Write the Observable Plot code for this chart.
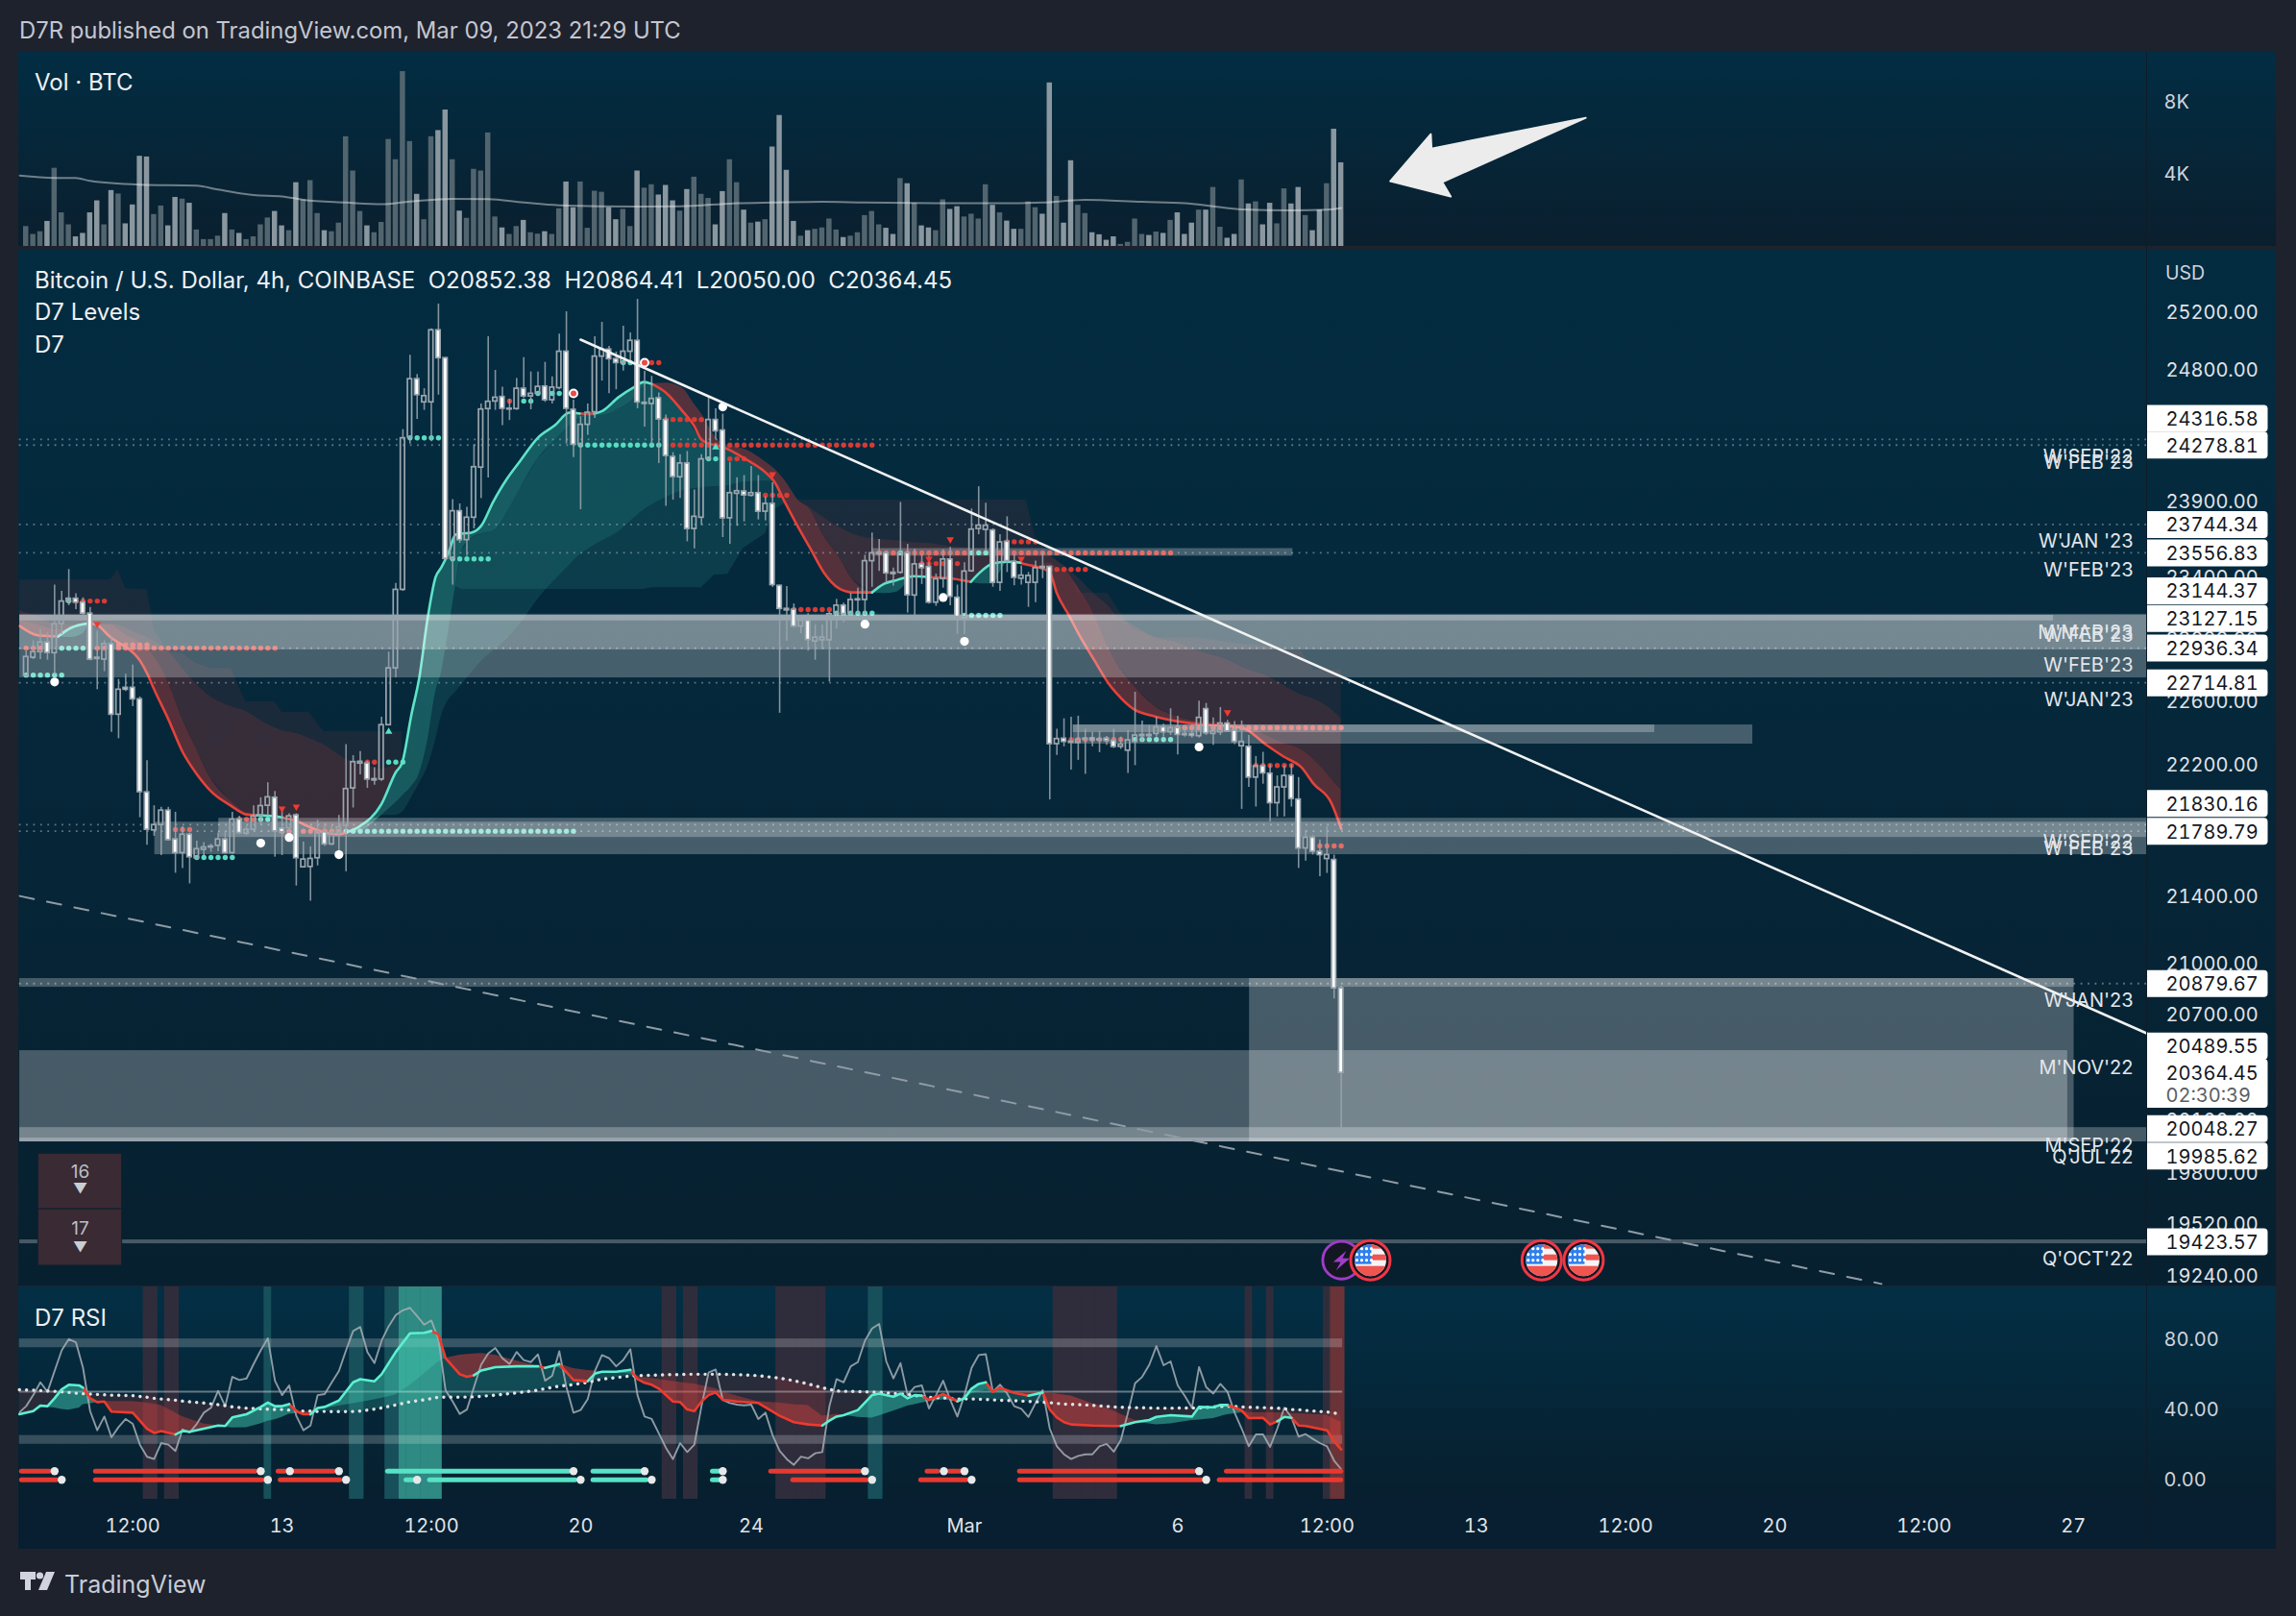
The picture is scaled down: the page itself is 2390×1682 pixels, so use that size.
<!DOCTYPE html>
<html><head><meta charset="utf-8">
<script src="https://cdn.jsdelivr.net/npm/d3@7"></script>
<script src="https://cdn.jsdelivr.net/npm/@observablehq/plot@0.6"></script>
<style>
html,body{margin:0;padding:0;background:#1e222d;width:2390px;height:1682px;overflow:hidden}
#stage{position:absolute;left:0;top:0;width:2390px;height:1682px;font-family:Inter,"Liberation Sans",sans-serif}
.pane{position:absolute;left:19px;width:2350px}
.t{position:absolute;white-space:pre;color:#eef0f3;font-size:24px;line-height:26px}
</style></head><body><div id="stage"></div>
<script>
// ---------- candles, one entry per 4h bar ----------
const opens=[22760,22875,22911,22973,22904,23091,23236,23256,23231,23159,22875,22863,22962,22513,22683,22683,22610,22028,21795,21828,21916,21740,21657,21769,21626,21677,21691,21701,21740,21657,21861,21775,21799,21885,21946,21995,21806,21808,21887,21571,21573,21626,21783,21710,21779,21822,22053,22207,22207,22102,22108,22447,22807,23314,
24330,24731,24571,24571,25072,24877,23517,23833,23641,23790,24126,24525,24577,24608,24522,24525,24665,24612,24630,24680,24586,24669,24922,24520,24281,24417,24503,24888,24937,24870,24843,24922,24998,24560,24560,24599,24450,24198,24061,24154,23715,23790,24183,24450,24378,23786,23950,23965,23937,23954,23830,23882,23340,23190,23184,23076,23113,22979,22987,22987,23157,23211,23157,23246,23248,23502,23549,23554,23426,23426,23554,23277,23481,23464,23231,23385,23513,23262,23138,23436,23715,23709,23705,23360,23630,23498,23387,23360,23360,23464,23464,22328,22362,22344,22336,22356,22364,22358,22362,22348,22311,22287,22342,22378,22386,22392,22433,22402,22429,22392,22392,22378,22548,22392,22402,22457,22412,22315,22311,22120,22190,22144,21962,22059,22130,21984,21685,21750,21665,21621,21615,20852];
const highs=[22917,22983,23060,23035,23345,23304,23447,23289,23262,23200,23045,22983,23014,22736,22770,22828,22625,22225,21946,21936,21936,21906,21818,21779,21730,21720,21711,21779,21789,21906,21881,21822,21946,21995,22087,22034,21936,21897,21897,21724,21695,21857,21838,21828,21887,22325,22256,22282,22221,22181,22497,22911,23356,24384,
24897,24763,24665,25083,25257,24881,23911,23882,23860,24281,24560,25027,24792,24676,24592,24736,24881,24781,24781,24848,24747,25045,25202,24586,24472,24560,25027,25128,24960,24920,25101,25054,25290,24785,24751,24636,24483,24227,24214,24235,23975,24214,24603,24527,24490,24162,24057,24072,24133,24072,23929,24024,23345,23335,23222,23128,23159,23086,23086,23169,23252,23227,23293,23325,23541,23688,23645,23566,23456,23892,23613,23581,23545,23534,23417,23577,23592,23345,23492,23848,23997,23886,23716,23677,23796,23545,23471,23428,23502,23562,23471,22422,22487,22497,22503,22422,22402,22406,22376,22422,22372,22412,22655,22473,22443,22497,22453,22550,22503,22443,22449,22598,22584,22493,22558,22477,22469,22473,22382,22251,22277,22200,22130,22194,22200,22120,21796,21766,21736,21817,21645,20864];
const lows=[22752,22863,22863,22859,22766,23024,23211,23186,23138,22855,22671,22786,22402,22362,22659,22564,21873,21705,21759,21642,21730,21535,21564,21471,21618,21642,21661,21665,21651,21651,21769,21763,21789,21828,21887,21632,21642,21730,21458,21568,21367,21579,21697,21701,21665,21544,21932,22136,22053,22073,22096,22443,22746,23304,
24286,24454,24516,24301,24621,23513,23345,23620,23534,23715,23918,24056,24516,24411,24446,24516,24599,24520,24621,24571,24560,24658,24286,24194,23843,24345,24461,24718,24630,24658,24787,24830,24527,24402,24275,24154,23865,23907,23918,23630,23583,23737,24176,24314,23658,23613,23733,23762,23928,23775,23769,23331,22522,22980,23066,23029,22917,22859,22925,22719,23060,23101,23124,23153,23149,23331,23434,23356,23339,23417,23163,23113,23349,23221,23207,23325,23211,23024,23024,23428,23677,23566,23331,23304,23428,23341,23345,23200,23231,23387,21982,22257,22311,22166,22227,22140,22311,22275,22321,22301,22295,22146,22194,22342,22362,22372,22372,22382,22261,22372,22366,22366,22382,22321,22382,22402,22325,21924,22059,21938,22079,21847,21877,21877,21938,21564,21608,21645,21514,21534,20790,20050];
const closes=[22880,22911,22973,22906,23091,23238,23256,23231,23159,22863,22867,22962,22513,22671,22671,22610,22030,21799,21828,21916,21736,21657,21769,21632,21681,21691,21697,21740,21657,21861,21779,21799,21881,21944,21998,21789,21783,21881,21626,21618,21622,21785,21710,21779,21814,22049,22216,22218,22108,22110,22447,22807,23314,24325,
24731,24621,24614,25072,24877,23517,23833,23641,23790,24129,24522,24575,24603,24527,24527,24665,24612,24630,24678,24586,24673,24922,24527,24281,24417,24500,24888,24937,24870,24843,24922,24998,24571,24568,24595,24454,24205,24063,24154,23715,23796,24182,24450,24373,23786,23954,23967,23939,23954,23830,23882,23345,23190,23180,23076,23113,22989,23004,23004,23155,23211,23157,23248,23252,23502,23554,23556,23422,23417,23554,23279,23481,23456,23231,23383,23513,23269,23138,23434,23711,23737,23737,23360,23626,23502,23393,23407,23405,23456,23456,22328,22360,22342,22336,22356,22362,22352,22352,22348,22311,22325,22352,22382,22386,22378,22433,22402,22429,22386,22384,22380,22493,22396,22408,22457,22408,22342,22342,22120,22190,22146,21962,22059,22130,21988,21685,21750,21665,21645,21645,20852,20364];
// ---------- volume ----------
const volumes=[1096,662,813,1380,4309,1852,1191,529,718,1852,2514,1191,3081,2892,1247,2287,4971,4933,1758,2230,1134,2703,2608,2381,907,378,378,567,1814,907,718,378,529,1191,1569,1928,1134,869,3515,2570,3629,1814,869,813,1285,6048,4158,1928,1134,756,1323,5897,4782,9639,5783,2873,1474,6048,6388,7522,4782,1947,1550,4252,4158,6256,1625,1021,662,1096,1436,756,680,813,662,2079,3553,2136,3553,1002,3043,2986,2136,1474,2041,1096,4158,3213,3402,2835,3364,2514,1947,3137,3818,2873,2646,1191,3024,4782,3515,2003,1285,1342,1474,5481,7220,4196,1380,567,869,945,1021,1512,907,491,567,756,1701,1928,1191,1002,662,3742,3459,2381,1134,1021,869,2570,2041,2192,1625,1777,1512,3402,2268,1852,1399,945,945,2457,2136,1777,9015,2759,1285,4725,2268,1814,756,643,340,529,113,227,1512,662,605,794,718,1436,1852,662,1285,2003,2003,3251,1058,454,662,3667,2344,2457,1191,2381,1247,3175,2344,3251,1701,869,2003,3459,6464,4612];
const volMaIdx=[-0.9,4,7,9,16,24,27,32,36,39,45,50,54,60,65,70,75,86,92,100,105,112,118,129,139,143,149,157,163,167,171,178,183,185];
const volMa=[3912,3780,3780,3610,3402,3345,3137,2835,2759,2570,2419,2325,2476,2627,2608,2419,2268,2192,2211,2381,2419,2457,2419,2381,2381,2419,2570,2457,2381,2211,2041,1985,2022,2117];
const volTicks=[4000,8000];
const arrowIdx=[191.9,197.6,197.7,219.4,199.2,200.4,191.9];
const arrowVol=[3598,6190,5397,7090,3545,2751,3598];
// ---------- D7 ribbon, first red phase ----------
const red1Idx=[-0.9,1.8,4.5,6.3,8.8,10,11.9,12.9,14,16,17,18,20,22,24,26,28.8,30.9,32.5,35,36,38,39.8,41.9,44,45,47,50,52,52.9];
const red1Fast=[23079,23017,23011,23067,23097,23085,23005,22974,22944,22857,22776,22673,22484,22280,22141,22035,21946,21893,21887,21881,21875,21852,21817,21782,21770,21782,21817,21958,22153,22213];
const red1Mid=[23116,23085,23054,23067,23097,23085,23085,23060,23023,22974,22932,22882,22715,22484,22292,22112,21976,21905,21887,21881,21875,21852,21817,21782,21770,21782,21817,21958,22153,22213];
const red1Slow=[23179,23135,23085,23085,23097,23091,23091,23085,23067,23023,23005,22980,22913,22807,22703,22624,22563,22533,22490,22430,22412,22394,22364,22322,22262,22232,22213,22171,22201,22213];
const red1Step=[23378,23378,23378,23378,23378,23378,23378,23448,23322,23316,23316,23054,22913,22900,22838,22807,22807,22594,22594,22594,22527,22527,22527,22406,22406,22406,22406,22406,22406,22406];
// ---------- teal phase ----------
const tealIdx=[45,46.8,50,52,52.9,54.2,55.3,56.5,57.6,58.4,59.5,60.4,61.3,62.6,64,65.7,67.6,69.4,72,74.4,76.4,77.9,79.9,81.1,83.3,85.6,86.9,88,90,92.3,95,96.8,98.7,100.9,104,105.2,106.8];
const tealFast=[21782,21817,21958,22153,22213,22514,22746,23135,23397,23460,23568,23677,23684,23690,23735,23896,24048,24165,24329,24414,24500,24494,24494,24513,24605,24678,24711,24698,24638,24513,24315,24276,24263,24185,24094,24035,23887];
const tealMid=[21782,21787,21887,21964,22005,22064,22141,22352,22654,22776,23066,23335,23568,23651,23682,23703,23823,23971,24185,24309,24407,24461,24474,24480,24526,24605,24678,24698,24638,24513,24315,24276,24263,24185,24094,24035,23887];
const tealSlow=[21782,21787,21887,21887,21905,21994,22082,22189,22352,22502,22611,22654,22703,22776,22850,22918,22992,23085,23253,23378,23473,23543,23606,23638,23695,23791,23842,23874,23925,23971,23990,23997,24003,24029,24035,24035,23887];
const tealStep=[21782,21787,21887,21964,22005,22064,22141,22352,22654,22776,23066,23335,23316,23316,23316,23316,23316,23316,23316,23316,23316,23316,23316,23316,23316,23316,23316,23328,23328,23328,23328,23410,23416,23587,23682,23842,23887];
// ---------- second red phase ----------
const red2Idx=[88,90,92.3,94,95,96,97.7,101.4,104,105.2,106.8,108.6,110.3,112.2,114.4,116.3,119,120.7,122.5,124.8,127,129.7,132.9,134.2,136,137.9,139.9,140.7,142,144,145,146.7,147.9,150.3,152.2,153.4,155.7,158.8,161.8,164.8,169.1,171.4,174.5,176.9,179.4,181.1,183.6,185];
const red2Fast=[24698,24638,24513,24407,24315,24290,24270,24178,24094,24035,23887,23727,23587,23429,23322,23297,23297,23353,23378,23403,23397,23391,23366,23429,23486,23498,23492,23480,23467,23429,23291,23147,23042,22856,22715,22648,22551,22502,22472,22454,22442,22424,22322,22250,22183,22082,21964,21805];
const red2Mid=[24698,24704,24671,24558,24493,24407,24296,24244,24165,24120,24035,23907,23842,23669,23524,23378,23303,23353,23378,23403,23397,23391,23366,23429,23486,23498,23492,23480,23467,23492,23460,23416,23335,23147,22944,22838,22703,22563,22502,22472,22460,22442,22382,22334,22292,22232,22112,22041];
const red2Slow=[24698,24704,24671,24558,24493,24407,24296,24244,24165,24120,24035,23907,23855,23791,23727,23682,23651,23644,23638,23625,23619,23600,23587,23581,23574,23574,23574,23574,23574,23536,23505,23448,23397,23285,23210,23147,23085,23004,22973,22918,22857,22807,22758,22697,22636,22612,22546,22490];
const red2Step=[24698,24704,24671,24558,24493,24407,24296,24244,24165,24120,24035,23907,23907,23907,23907,23907,23907,23907,23907,23907,23907,23907,23907,23907,23907,23907,23907,23907,23650,23542,23505,23448,23291,23291,23291,23200,23060,23004,23004,23004,22973,22960,22948,22930,22918,22795,22795,22795];
// small teal fills under the ribbon line
const bitIdx=[4.5,6.3,8,8.8, 119,120.7,122.5,124.8,127, 132.9,134.2,136,137,137.9];
const bitTop=[23011,23067,23095,23097, 23297,23353,23378,23403,23397, 23366,23429,23486,23495,23498];
const bitLow=[23011,23005,23030,23097, 23297,23290,23300,23390,23397, 23366,23353,23353,23430,23498];
const bitGroup=[0,0,0,0,1,1,1,1,1,2,2,2,2,2];
// stretches where the ribbon line is teal or red (bar indices)
const ribbonTurns=[[-0.9,4.5,"r"],[4.5,8.8,"t"],[8.8,32.5,"r"],[32.5,36,"t"],[36,45,"r"],[45,77.9,"t"],[77.9,79.9,"r"],[79.9,88,"t"],[88,119,"r"],[119,127,"t"],[127,132.9,"r"],[132.9,139.9,"t"],[139.9,185,"r"]];
// ---------- dotted runs of the D7 level study: [first bar, last bar, price] ----------
const redRuns=[[7,11,23241],[0,3,22936],[10,35,22936],[13,17,22958],[21,23,21800],[30,32,21863],[36,44,21790],[48,49,22216],[88,89,24845],[68,68,24580],[90,95,24453],[90,119,24279],[98,101,24185],[103,107,23940],[108,113,23185],[120,122,23557],[124,132,23557],[136,161,23557],[126,131,23486],[138,142,23630],[144,149,23448],[147,154,22357],[162,185,22430],[172,178,22195],[182,185,21700]];
const tealRuns=[[6,6,23241],[5,8,22936],[0,5,22764],[24,29,21630],[33,34,21863],[45,77,21790],[51,53,22216],[54,58,24328],[60,65,23517],[70,71,24580],[72,76,24632],[84,85,24845],[78,89,24279],[96,97,24185],[114,119,23162],[123,123,23557],[133,135,23557],[132,137,23148],[156,161,22357]];
const whiteDotIdx=[4,33,37,44,98,118,129,132,165];
const whiteDotPrice=[22720,21717,21752,21647,24539,23091,23264,22980,22310];
const ringDotIdx=[77,87];
const ringDotPrice=[24632,24845];
const downIdx=[10,36,38,105,127,130,140,169];
const downPrice=[23091,21928,21940,24080,23517,23645,23517,22527];
const upIdx=[51,97];
const upPrice=[22406,24263];
// ---------- price levels ----------
const levelPrices=[24316.58,24278.81,23744.34,23556.83,23144.37,23127.15,22936.34,22714.81,21830.16,21789.79,20879.67,20489.55,20048.27,19985.62,19423.57];
const levelNames=["W'SEP'22","W'FEB'23","W'JAN '23","W'FEB'23","M'MAR'23","W'FEB'23","W'FEB'23","W'JAN'23","W'SEP'22","W'FEB'23","W'JAN'23","M'NOV'22","M'SEP'22","Q'JUL'22","Q'OCT'22"];
const levelDotted=[true,true,true,true,false,false,true,true,true,true,true,false,false,false,false];
const lastPrice=20364.45;
const lastTimer="02:30:39";
const priceTicks=[25200,24800,23900,23400,23000,22600,22200,21400,21000,20700,20100,19800,19520,19240];
// zones: [first bar, last bar, high price, low price]
const zones=[[-0.9,298.3,23155,22746],[-0.9,298.3,23148,22925],[-0.9,285.2,23148,23112],
[18.1,298.3,21845,21647],[27.1,298.3,21869,21752],[119,178.2,23585,23535],[147.3,229.1,22448,22400],[147.3,242.9,22448,22328],
[172.1,288.1,20909,19974],[-0.9,287.2,20491,19974],[-0.9,288.1,20909,20858],[-0.9,298.3,20054,19974],[-0.9,288.1,19995,19974],[-0.9,298.3,19433,19412]];
const trendIdx=[78,298.3];const trendPrice=[25006,20591];
const dashIdx=[-0.9,261];const dashPrice=[21398,19195];
const eventIdx=[189.1,213.2,219.1];const eventPrice=19323;const flashIdx=185.05;
const sessionBoxes=[["16",1.7,13.5,19908,19601,19808,19712],["17",1.7,13.5,19601,19293,19496,19393]];
// ---------- RSI ----------
const rsiGrayA=[38,41.7,48,55.3,49.9,61.7,73.5,79.9,78.1,63.5,38.9,28,35.8,24,29.8,34.4,31.6,19.8,12.9,11.6,20.7,19.8,16.2,28.5,26.7,31.6,38,40.8,50.4,41.7,58.4,56.6,57.5,65.7,73.5,80.4,56.2,48,53.5,36.2,28,30.7,48,48.6,55.3,61.7,73.5,84.5,86.8,72.6,66.2,79,87.2,93.6,96.3,97.7,93,88.1,90.5,79.9,50.8,44.4,37.3,39.8,52.6,65.3,71.7,74.8,69,65.7,72.6,68,66.8,71.2,56.2,59,73,52.6,38,39.5,45.7,61.7,70.8,69,64.4,68,74.1,48,35.8,34.4,26.2,18,11.6,20.7,15.6,19.8,41.7,60.8,62.6];
const rsiGrayB=[45.3,43.5,42.6,42.2,42.6,34.4,38,25.3,16.2,11.6,8.3,13,12,14.9,15.6,41.7,57.1,55.3,64.4,66.8,79,85.9,88.5,67.2,57.5,66.2,48,52.6,53.5,40.4,48,56.2,45.3,35.8,48,63.5,70.8,71.3,49.9,54,48.9,41.7,40.2,35.6,43.5,50.8,28.9,18.9,14.3,11.6,13.4,14.3,14.3,18.9,20.2,15.8,22.5,38,54.8,58.4,65.3,75.9,65,67.2,53.5,47.5,40.8,64,52.6,48.9,54.4,49.9,38,28.9,18.9,25.6,25.6,18.5,28.9,40.8,35.3,24.4,25.8,23.1,20.7,18.9,10.7,5.8];
const rsiIdx=[-0.95,1,2,3,4,5,6,7.5,8,9,10,11,12,15,17,18,19,21,22,23,25,27,28,29,31,33,34,35,36,37,38,39,40,41,42,44,46,47,49,50,52,54,56,57,58,59,61,62,63,64,66,69,72,73,75,77,79,80,81,83,85,86,87,88,89,91,92,93,94,95,96,97,98,100,102,103,106,108,110,112,113,114,115,117,119,120,122,123,124,125,126,127,129,131,132,133,134,135,136,137,139,141,143,144,145,146,147,150,153,154,156,158,159,161,164,165,167,168,169,171,172,174,175,176,177,178,179,180,183,184,185];
const rsiFast=[37.1,38.9,42,41.7,46.2,51.3,53.9,53.5,52.2,46.2,44,44.4,38.6,38,28.9,26.5,27.5,25.6,27.6,27.1,28.9,30.7,30.4,35.3,37.1,41.3,43.8,41.7,41.7,42.9,38.9,37.1,37.1,40.7,41.3,44.9,55.3,57.1,55.9,59.9,72.6,83.2,83.5,84.5,82.6,69,59.9,58.4,59.3,62,63.9,64.4,64.4,63.5,65.7,56.6,55.9,60.2,61.3,61.3,62.4,57.1,55,53.9,51.7,44.4,44,39.8,38.9,44.4,48,49.5,45.3,44.4,43.8,43.5,36.2,32.6,31.3,30.7,33.5,35.8,36.6,39.5,48,48.9,47.1,48.9,46.2,48,47.7,45.3,48.6,44.4,46.2,51.7,54.4,55.3,49.9,52.2,49.3,47.7,49.5,39.8,35.3,32.6,31.3,30.7,30.4,30.4,32.6,33.8,35.6,36.6,35.8,41.3,41.1,42.4,42.4,39.3,34.9,35.1,31.3,33.1,35.6,35.1,30.7,30.4,28,21.6,17.1];
const rsiMid=[38,39.5,40.7,41.1,40.7,39.8,39.5,40.7,42.6,43.1,43.8,44.4,44.4,44.4,43.5,42.9,42.2,38,35.8,34.4,31.6,30.2,29.8,29.3,29.5,31.6,33.1,34,35.3,37.1,37.5,38.4,38.9,39.5,40.2,41.7,43.1,43.8,45.3,46.2,48,53.5,59.9,63.5,66.8,69,70.8,71.2,71.5,71.7,70.8,67.5,64.4,63.9,63.5,63.1,62,61.7,61.3,60.8,59.9,58.9,58,57.5,57,55.9,55.3,54.8,54.4,53.5,52.6,51.7,49.9,47.5,45.3,44.4,43.5,42.6,42.2,36.2,36.6,37.1,36.6,35.3,34.9,36.2,38.9,40.2,41.7,42.6,43.5,44.2,45.3,45.7,46.8,48.6,49.9,50.8,50.4,49.9,48.9,49.3,49.9,49.3,48.6,48,47.5,43.1,38.9,37.1,33.5,31.6,31.1,31.6,33.5,33.8,34.7,35.8,36.9,38,38,38,38,38,38,37.7,37.5,37.3,36.6,34.4,32.6];
const rsiSignal=[51.1,50.8,50.6,50.4,50.2,49.9,49.5,48.9,48.8,48.6,48.4,48.2,48,47.7,46.8,46.2,45.8,45.1,44.6,44.2,43.5,42.6,42,41.3,40.6,40.2,40,39.8,39.8,39.5,39.1,38.9,38.9,38.7,38.7,38.6,38.7,38.9,40,40.7,42.4,44.2,45.3,46,46.8,46.8,46.8,46.9,47.1,47.3,48,49.3,50.8,51.7,53.1,54,55.3,56.2,57.1,58,58.9,59.1,59.3,59.3,59.5,59.7,59.7,59.9,59.9,59.9,59.9,59.9,59.9,59.7,59.3,59.1,57.7,56.2,54.4,52.2,51.3,50.4,50.2,50,49.7,49.7,48.9,48.8,48.4,47.8,47.3,46.8,46.4,45.8,45.8,45.8,45.7,45.5,45.3,45.1,44.8,44.4,44,43.7,43.3,42.9,42.8,42.2,41.3,41.1,40.9,40.7,40.6,40.6,40.7,40.7,41.3,41.5,41.7,41.3,41.1,40.9,40.7,40.6,40.2,39.8,39.7,39.3,38.4,37.8,37.1];
const rsiTurns=[[-1,8,"t"],[8,21,"r"],[21,37,"t"],[37,40,"r"],[40,57,"t"],[57,63,"r"],[63,72,"t"],[72,73,"r"],[73,75,"t"],[75,79,"r"],[79,85,"t"],[85,112,"r"],[112,126,"t"],[126,131,"r"],[131,135,"t"],[135,141,"r"],[141,143,"t"],[143,154,"r"],[154,169,"t"],[169,176,"r"],[176,178,"t"],[178,185,"r"]];
const rsiTicks=[0,40,80];
const plumBars=[17,18,20,21,90,91,93,94,106,107,108,109,110,111,112,145,146,147,148,149,150,151,152,153,172,175,183];
const tealBars=[34,46,47,51,52,119,120];
const hotTealBars=[53,54,55,56,57,58];
const hotRedBars=[184,185];
// bottom state rows: [from, to, kind], terminal dot bars
const row1Segs=[[-0.6,3.3,"r"],[9.8,32.3,"r"],[35.5,36.5,"r"],[37.8,43.3,"r"],[50.9,76.4,"t"],[79.8,86.4,"t"],[96.6,97.7,"t"],[104.8,117.3,"r"],[126.8,128.3,"r"],[129.9,131.4,"r"],[139.8,164.3,"r"],[168.9,185,"r"]];
const row1Dots=[4,33,37.1,44,77,87,98,118,129.1,132,165];
const row2Segs=[[-0.6,4.3,"r"],[9.8,33.3,"r"],[35.8,44.2,"r"],[53.5,54.6,"t"],[56.8,77.3,"t"],[79.8,87.3,"t"],[96.6,97.7,"t"],[107.9,118.3,"r"],[125.9,132.3,"r"],[139.8,165.3,"r"],[167.9,185,"r"]];
const row2Dots=[5,34,45,55,78,88,98,119,133,166];
const rowLevels=[4.7,-0.2];
const xTickIdx=[15,36,57,78,102,132,162,183,204,225,246,267,288];
const xTickText=["12:00","13","12:00","20","24","Mar","6","12:00","13","12:00","20","12:00","27"];

const FONT="Inter, 'Liberation Sans', sans-serif";
const W=2390, RIGHT=2234;
const xDomain=[-0.95,298.3], xRange=[19.7,RIGHT];
const TEAL="#5fe3c8", RED="#e5423a", TEALF="#3fcab0", REDF="#d8403a";
const stage=document.getElementById("stage");
const bars=opens.map((o,i)=>({i,o,h:highs[i],l:lows[i],c:closes[i],v:volumes[i],down:closes[i]<o}));

function pane(top,h,bg){const d=document.createElement("div");d.className="pane";d.style.cssText+=`top:${top}px;height:${h}px;background:${bg}`;stage.appendChild(d)}
function label(text,x,y,css=""){const d=document.createElement("div");d.className="t";d.textContent=text;d.style.cssText+=`left:${x}px;top:${y-13}px;${css}`;stage.appendChild(d);return d}
function mount(svg,top){svg.style.position="absolute";svg.style.left="0";svg.style.top=top+"px";svg.style.background="transparent";svg.style.overflow="visible";stage.appendChild(svg)}
const zipRows=(idx,cols)=>idx.map((i,k)=>{const r={i};for(const n in cols)r[n]=cols[n][k];return r});
function bySegments(rows,turns,kind){return turns.flatMap((t,k)=>t[2]!==kind?[]:rows.filter(p=>p.i>=t[0]&&p.i<=t[1]).map(p=>({...p,k})))}
const runDots=runs=>runs.flatMap(([a,b,p])=>d3.range(a,b+1).map(i=>({i,p})));

// ---------- panes ----------
pane(54,202,"linear-gradient(#022d43,#0a1f2e)");
pane(259,1079,"linear-gradient(#032c41 0%,#05283b 40%,#07202f 100%)");
pane(1339,221,"linear-gradient(#032f45,#071f2e)");
pane(1560,52,"#071f30");

// ---------- volume ----------
mount(Plot.plot({width:W,height:202,marginTop:0,marginBottom:0,marginLeft:xRange[0],marginRight:W-RIGHT,style:{fontFamily:FONT},
 x:{domain:xDomain,range:xRange,axis:null},y:{domain:[0,10700],range:[202,0],axis:null},
 marks:[
  Plot.rect(bars,{x1:d=>d.i-.37,x2:d=>d.i+.37,y1:0,y2:"v",fill:d=>d.down?"#8a979f":"#52656f"}),
  Plot.line(zipRows(volMaIdx,{v:volMa}),{x:"i",y:"v",stroke:"#ffffff",strokeOpacity:.42,strokeWidth:2,curve:"monotone-x"}),
  Plot.line(zipRows(arrowIdx,{v:arrowVol}),{x:"i",y:"v",fill:"#ececec",stroke:"#ececec",strokeWidth:2,strokeLinejoin:"round"}),
  Plot.axisY({ticks:volTicks,anchor:"right",tickSize:0,tickPadding:18,tickFormat:d=>(d/1000)+"K",fill:"#d1d4dc",fontSize:20,label:null,dy:1})
 ]}),54);

// ---------- main ----------
const r1=zipRows(red1Idx,{f:red1Fast,m:red1Mid,s:red1Slow,t:red1Step});
const tl=zipRows(tealIdx,{f:tealFast,m:tealMid,s:tealSlow,t:tealStep});
const r2=zipRows(red2Idx,{f:red2Fast,m:red2Mid,s:red2Slow,t:red2Step});
const fastAll=[...r1.filter(d=>d.i<=45),...tl.filter(d=>d.i>45&&d.i<=88),...r2.filter(d=>d.i>88)];
const levels=levelPrices.map((p,k)=>({p,name:levelNames[k],dotted:levelDotted[k]}));
const boxShift=new Map([[24316.58,-22],[23144.37,-26],[21830.16,-22],[20489.55,-5],[19985.62,17]]);
const boxSym={draw(c){const w=63,h=14,r=4;c.moveTo(-w,-h);c.lineTo(w-r,-h);c.arcTo(w,-h,w,-h+r,r);c.lineTo(w,h-r);c.arcTo(w,h,w-r,h,r);c.lineTo(-w,h);c.closePath()}};
const lastSym={draw(c){const w=63,h=25.5,r=4;c.moveTo(-w,-h);c.lineTo(w-r,-h);c.arcTo(w,-h,w,-h+r,r);c.lineTo(w,h-r);c.arcTo(w,h,w-r,h,r);c.lineTo(-w,h);c.closePath()}};
const flagSvg=`<svg xmlns="http://www.w3.org/2000/svg" viewBox="0 0 46 46"><defs><clipPath id="c"><circle cx="23" cy="23" r="16.5"/></clipPath></defs><circle cx="23" cy="23" r="20.5" fill="#131722" stroke="#f23645" stroke-width="3"/><g clip-path="url(#c)"><rect width="46" height="46" fill="#f5f5f7"/><rect y="6" width="46" height="5" fill="#f0544f"/><rect y="17" width="46" height="6" fill="#f0544f"/><rect y="29" width="46" height="11" fill="#f0544f"/><rect y="6" width="24" height="21" fill="#2f80ed"/>${[0,1,2].flatMap(r=>[0,1,2,3].map(c=>`<circle cx="${9+c*5}" cy="${11+r*6}" r="1.6" fill="#fff"/>`)).join("")}</g></svg>`;
const flashSvg=`<svg xmlns="http://www.w3.org/2000/svg" viewBox="0 0 46 46"><circle cx="23" cy="23" r="20.5" fill="#131722" stroke="#a13cc9" stroke-width="3"/><path d="M28 13 L14 25 L22 25 L17 34 L32 21 L24 21 Z" fill="#a13cc9"/></svg>`;
const uri=s=>"data:image/svg+xml,"+encodeURIComponent(s);
const redArea=(rows,a,b,op)=>Plot.areaY(rows,{x:"i",y1:a,y2:b,fill:REDF,fillOpacity:op,curve:"monotone-x"});
const tealArea=(rows,a,b,op)=>Plot.areaY(rows,{x:"i",y1:a,y2:b,fill:TEALF,fillOpacity:op,curve:"monotone-x"});
const bodyBarsDown=bars.filter(d=>d.down),bodyBarsUp=bars.filter(d=>!d.down);

mount(Plot.plot({width:W,height:1079,marginTop:0,marginBottom:0,marginLeft:xRange[0],marginRight:W-RIGHT,style:{fontFamily:FONT},
 x:{domain:xDomain,range:xRange,axis:null},
 y:{type:"log",domain:[19184,25647],range:[1079,0],axis:null},
 marks:[
  // ribbons
  Plot.areaY(r1,{x:"i",y1:"m",y2:"t",fill:REDF,fillOpacity:.10}),
  redArea(r1,"m","s",.15),redArea(r1,"f","m",.38),
  Plot.areaY(r2,{x:"i",y1:"m",y2:"t",fill:REDF,fillOpacity:.10}),
  redArea(r2,"m","s",.15),redArea(r2,"f","m",.38),
  Plot.areaY(tl,{x:"i",y1:"m",y2:"t",fill:TEALF,fillOpacity:.13}),
  tealArea(tl,"m","s",.13),tealArea(tl,"f","m",.32),
  Plot.areaY(zipRows(bitIdx,{a:bitTop,b:bitLow,g:bitGroup}),{x:"i",y1:"a",y2:"b",z:"g",fill:TEALF,fillOpacity:.3,curve:"monotone-x"}),
  // dotted level runs
  Plot.ruleY(levels.filter(d=>d.dotted),{y:"p",x1:xDomain[0],x2:xDomain[1],stroke:"#a9b6bd",strokeOpacity:.55,strokeWidth:1.8,strokeDasharray:"1.8 5.6"}),
  Plot.dot(runDots(redRuns),{x:"i",y:"p",r:2.7,fill:"#d93a34"}),
  Plot.dot(runDots(tealRuns),{x:"i",y:"p",r:2.7,fill:"#57dcc2"}),
  // ribbon line
  Plot.line(bySegments(fastAll,ribbonTurns,"r"),{x:"i",y:"f",z:"k",stroke:RED,strokeWidth:2.6,curve:"monotone-x"}),
  Plot.line(bySegments(fastAll,ribbonTurns,"t"),{x:"i",y:"f",z:"k",stroke:TEAL,strokeWidth:2.6,curve:"monotone-x"}),
  // zones on top of the ribbon
  Plot.rect(zones,{x1:d=>d[0],x2:d=>d[1],y1:d=>d[3],y2:d=>d[2],fill:"#ffffff",fillOpacity:.26}),
  // candles
  Plot.ruleX(bars,{x:"i",y1:"h",y2:d=>Math.max(d.o,d.c),stroke:"#9aa6ae",strokeOpacity:.85,strokeWidth:1.6}),
  Plot.ruleX(bars,{x:"i",y1:d=>Math.min(d.o,d.c),y2:"l",stroke:"#9aa6ae",strokeOpacity:.85,strokeWidth:1.6}),
  Plot.rect(bodyBarsUp,{x1:d=>d.i-.3,x2:d=>d.i+.3,y1:"o",y2:"c",fill:"none",stroke:"#9aa6ae",strokeWidth:1.7}),
  Plot.rect(bodyBarsDown,{x1:d=>d.i-.3,x2:d=>d.i+.3,y1:"o",y2:"c",fill:"#ffffff",stroke:"#9aa6ae",strokeWidth:1.7}),
  // pivots and triangles
  Plot.dot(zipRows(whiteDotIdx,{p:whiteDotPrice}),{x:"i",y:"p",r:4.6,fill:"#ffffff"}),
  Plot.dot(zipRows(ringDotIdx,{p:ringDotPrice}),{x:"i",y:"p",r:5,fill:"#ffffff"}),
  Plot.dot(zipRows(ringDotIdx,{p:ringDotPrice}),{x:"i",y:"p",r:3,fill:"#ee4a44"}),
  Plot.dot(zipRows(downIdx,{p:downPrice}),{x:"i",y:"p",r:3.6,symbol:"triangle2",rotate:180,fill:"#f23a30"}),
  Plot.dot(zipRows(upIdx,{p:upPrice}),{x:"i",y:"p",r:3.6,symbol:"triangle2",fill:"#57e2c6"}),
  // drawn lines
  Plot.line(zipRows(dashIdx,{p:dashPrice}),{x:"i",y:"p",stroke:"#8f9ca5",strokeWidth:2,strokeDasharray:"15 14"}),
  Plot.line(zipRows(trendIdx,{p:trendPrice}),{x:"i",y:"p",stroke:"#f2f2f2",strokeWidth:2.6}),
  // session boxes
  Plot.rect(sessionBoxes,{x1:d=>d[1],x2:d=>d[2],y1:d=>d[4],y2:d=>d[3],fill:"#3a2a33",stroke:"#0c2233",strokeWidth:1}),
  Plot.text(sessionBoxes,{x:d=>(d[1]+d[2])/2,y:d=>d[5],text:d=>d[0],fill:"#b9bfc6",fontSize:19}),
  Plot.text(sessionBoxes,{x:d=>(d[1]+d[2])/2,y:d=>d[6],text:()=>"\u25BC",fill:"#c9ced3",fontSize:15}),
  // calendar events
  Plot.image([{i:flashIdx,p:eventPrice}],{x:"i",y:"p",src:()=>uri(flashSvg),width:44,height:44}),
  Plot.image(eventIdx.map(i=>({i,p:eventPrice})),{x:"i",y:"p",src:()=>uri(flagSvg),width:46,height:46}),
  // level names
  Plot.text(levels,{y:"p",text:"name",frameAnchor:"right",textAnchor:"end",dx:-14,dy:18,fill:"#e3e6ea",fontSize:20}),
  // price scale
  Plot.axisY({ticks:priceTicks,anchor:"right",tickSize:0,tickPadding:20,tickFormat:d=>d.toFixed(2),fill:"#e0e3e8",fontSize:20,label:null,dy:1}),
  ...levelPrices.flatMap(p=>{const dy=boxShift.get(p)||0;return [
    Plot.dot([p],{y:d=>d,frameAnchor:"right",dx:63,dy,symbol:boxSym,fill:"#ffffff",r:5}),
    Plot.text([p],{y:d=>d,text:d=>d.toFixed(2),frameAnchor:"right",textAnchor:"start",dx:20,dy:dy+1,fill:"#131722",fontSize:20,fontVariant:"tabular-nums"})];}),
  Plot.dot([lastPrice],{y:d=>d,frameAnchor:"right",dx:63,dy:11,symbol:lastSym,fill:"#ffffff",r:5}),
  Plot.text([lastPrice],{y:d=>d,text:d=>d.toFixed(2),frameAnchor:"right",textAnchor:"start",dx:20,dy:1,fill:"#131722",fontSize:20,fontVariant:"tabular-nums"}),
  Plot.text([lastPrice],{y:d=>d,text:()=>lastTimer,frameAnchor:"right",textAnchor:"start",dx:20,dy:24,fill:"#5a5e66",fontSize:20,fontVariant:"tabular-nums"})
 ]}),259);

// ---------- RSI ----------
const rsiRows=zipRows(rsiIdx,{f:rsiFast,m:rsiMid,s:rsiSignal});
const gray=[...rsiGrayA,...rsiGrayB].map((v,k)=>({i:k-1,v}));
const stripe=(list,fill)=>Plot.rect(list,{x1:d=>d-.53,x2:d=>d+.53,y1:-11.3,y2:109.6,fill});
mount(Plot.plot({width:W,height:273,marginTop:0,marginBottom:52,marginLeft:xRange[0],marginRight:W-RIGHT,style:{fontFamily:FONT},
 x:{domain:xDomain,range:xRange,axis:null},y:{domain:[-11.3,109.6],range:[221,0],axis:null},
 marks:[
  stripe(plumBars,"#2f2d3c"),stripe(tealBars,"#17505a"),stripe(hotTealBars,"#2e8a82"),stripe(hotRedBars,"#6a3337"),
  Plot.rect([[75,80],[20,25]],{x1:-0.95,x2:185.2,y1:d=>d[0],y2:d=>d[1],fill:"#ffffff",fillOpacity:.2}),
  Plot.ruleY([50],{x1:-0.95,x2:185.2,stroke:"#ffffff",strokeOpacity:.38,strokeWidth:2}),
  // plum above the fast line up to the signal, dark teal below it down to the signal
  Plot.areaY(rsiRows,{x:"i",y1:d=>Math.max(d.f,d.m),y2:d=>Math.max(d.s,d.f,d.m),fill:REDF,fillOpacity:.17}),
  Plot.areaY(rsiRows,{x:"i",y1:d=>Math.min(d.f,d.m),y2:d=>Math.min(d.s,d.f,d.m),fill:TEALF,fillOpacity:.22}),
  // stronger fill between the fast line and its average, coloured by which is on top
  Plot.areaY(rsiRows,{x:"i",y1:"f",y2:d=>Math.max(d.f,d.m),fill:REDF,fillOpacity:.5}),
  Plot.areaY(rsiRows,{x:"i",y1:"f",y2:d=>Math.min(d.f,d.m),fill:TEALF,fillOpacity:.5}),
  Plot.line(gray,{x:"i",y:"v",stroke:"#a6aeb5",strokeOpacity:.85,strokeWidth:1.9,clip:true}),
  Plot.line(rsiRows,{x:"i",y:"s",stroke:"#dfe2e4",strokeWidth:3.4,strokeLinecap:"round",strokeDasharray:"0.1 7.3"}),
  Plot.line(bySegments(rsiRows,rsiTurns,"r"),{x:"i",y:"f",z:"k",stroke:"#ee3a2e",strokeWidth:2.6}),
  Plot.line(bySegments(rsiRows,rsiTurns,"t"),{x:"i",y:"f",z:"k",stroke:"#5cf0d2",strokeWidth:2.6}),
  ...[[row1Segs,row1Dots,rowLevels[0]],[row2Segs,row2Dots,rowLevels[1]]].flatMap(([segs,dots,lv])=>[
    Plot.ruleY(segs,{y:()=>lv,x1:d=>d[0],x2:d=>d[1],stroke:d=>d[2]==="r"?"#e63a30":"#57e2c6",strokeWidth:5,strokeLinecap:"round"}),
    Plot.dot(dots,{x:d=>d,y:()=>lv,r:4.2,fill:"#e6e8ea"})]),
  Plot.axisY({ticks:rsiTicks,anchor:"right",tickSize:0,tickPadding:18,tickFormat:d=>d.toFixed(2),fill:"#d1d4dc",fontSize:20,label:null,dy:1}),
  Plot.axisX({ticks:xTickIdx,tickSize:0,tickPadding:20,tickFormat:d=>xTickText[xTickIdx.indexOf(d)],fill:"#e0e3e8",fontSize:20,label:null,fontWeight:d=>d===132?700:400})
 ]}),1339);

// right-scale divider
const div=document.createElement("div");div.style.cssText=`position:absolute;left:${RIGHT}px;top:54px;width:1px;height:1558px;background:#0e1c29`;stage.appendChild(div);

// ---------- texts ----------
label("D7R published on TradingView.com, Mar 09, 2023 21:29 UTC",20,32,"color:#c3c6d0;font-size:23.85px");
label("Vol \u00B7 BTC",36,86,"");
label("Bitcoin / U.S. Dollar, 4h, COINBASE  O20852.38  H20864.41  L20050.00  C20364.45",36,292,"");
label("D7 Levels",36,325,"");
label("D7",36,359,"");
label("USD",2254,284,"color:#d1d4dc;font-size:19.5px");
label("D7 RSI",36,1372,"");
label("TradingView",67,1649,"color:#c9ccd5;font-size:25px");
const logo=document.createElementNS("http://www.w3.org/2000/svg","svg");
logo.setAttribute("viewBox","0 0 36 20");logo.style.cssText="position:absolute;left:20px;top:1636px;width:38px;height:20px";
logo.innerHTML='<path fill="#d1d4dc" d="M0 0h16v8h-8v11H8V8H0z M8 8v11h0z"/><path fill="#d1d4dc" d="M4 0h0zM5 8h6v11H5z"/><circle cx="20.5" cy="4" r="3.6" fill="#d1d4dc"/><path fill="#d1d4dc" d="M27 0h9l-8 19h-9z"/>';
stage.appendChild(logo);
</script></body></html>
